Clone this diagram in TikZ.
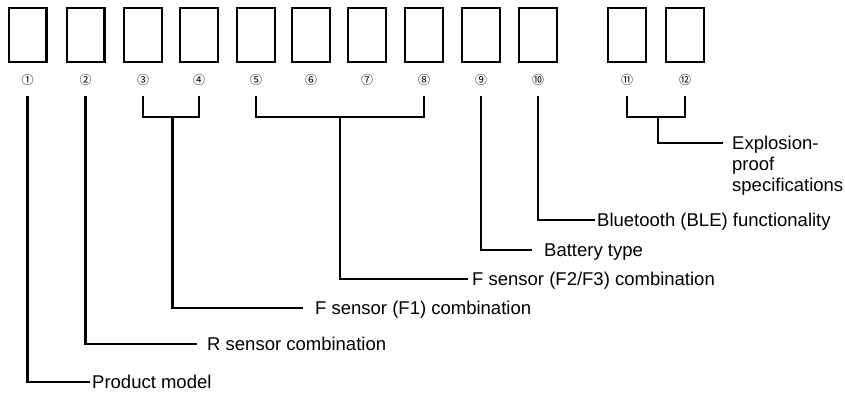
\documentclass[tikz,border=0pt]{standalone}
\usepackage{fontspec}
\setmainfont{Liberation Sans}
\newfontfamily\circfont{Noto Sans CJK JP}
\usetikzlibrary{calc}
\begin{document}
\begin{tikzpicture}[x=1pt,y=-1pt,
  digitbox/.style={draw=black,line width=2.4pt,minimum width=37.6pt,minimum height=53.6pt,inner sep=0pt},
  num/.style={font=\circfont\fontsize{12}{12}\selectfont,inner sep=0pt},
  lab/.style={font=\fontsize{18.5}{21}\selectfont,inner sep=0pt,anchor=west,text height=13.2pt,text depth=0pt},
  conn/.style={line width=2.4pt}]
\useasboundingbox (0,0) rectangle (845,392);
\foreach \i/\x/\c in {1/27.5/①,2/85.5/②,3/143/③,4/199/④,5/256/⑤,6/311/⑥,7/367/⑦,8/424/⑧,9/481/⑨,10/538/⑩,11/627/⑪,12/685/⑫}{
  \node[digitbox] (b\i) at (\x,35) {};
  \node[num,minimum height=11pt] (n\i) at (\x,80) {\c};
}
% labels
\node[lab] (l1) at (92,382) {Product model};
\node[lab] (l2) at (207,344) {R sensor combination};
\node[lab] (l3) at (315,308) {F sensor (F1) combination};
\node[lab] (l4) at (472,279) {F sensor (F2/F3) combination};
\node[lab] (l5) at (544,250) {Battery type};
\node[lab] (l6) at (597,220) {Bluetooth (BLE) functionality};
\node[font=\fontsize{18.5}{21}\selectfont,inner sep=0pt,anchor=north west,align=left] (l7) at (732,136.3) {Explosion-\\proof\\specifications};
% single connectors
\draw[conn] ([yshift=-10.5pt]n1.south) |- ([xshift=-2pt]l1.west);
\draw[conn] ([yshift=-10.5pt]n2.south) |- ([xshift=-10pt]l2.west);
\draw[conn] ([yshift=-10.5pt]n9.south) |- ([xshift=-12pt]l5.west);
\draw[conn] ([yshift=-10.5pt]n10.south) |- ([xshift=-2pt]l6.west);
% brackets
\draw[conn] ([yshift=-10.5pt]n3.south) -- ([yshift=-31.5pt]n3.south) -- ([yshift=-31.5pt]n4.south) -- ([yshift=-10.5pt]n4.south);
\coordinate (m34) at ($([yshift=-31.5pt]n3.south)!0.53!([yshift=-31.5pt]n4.south)$);
\draw[conn] (m34) |- ([xshift=-12pt]l3.west);
\draw[conn] ([yshift=-10.5pt]n5.south) -- ([yshift=-31.5pt]n5.south) -- ([yshift=-31.5pt]n8.south) -- ([yshift=-10.5pt]n8.south);
\coordinate (m58) at ($([yshift=-31.5pt]n5.south)!0.5!([yshift=-31.5pt]n8.south)$);
\draw[conn] (m58) |- ([xshift=-4pt]l4.west);
\draw[conn] ([yshift=-10.5pt]n11.south) -- ([yshift=-31.5pt]n11.south) -- ([yshift=-31.5pt]n12.south) -- ([yshift=-10.5pt]n12.south);
\coordinate (m1112) at ($([yshift=-31.5pt]n11.south)!0.53!([yshift=-31.5pt]n12.south)$);
\draw[conn] (m1112) |- ([xshift=-9pt,yshift=-6.6pt]l7.north west);
\end{tikzpicture}
\end{document}
